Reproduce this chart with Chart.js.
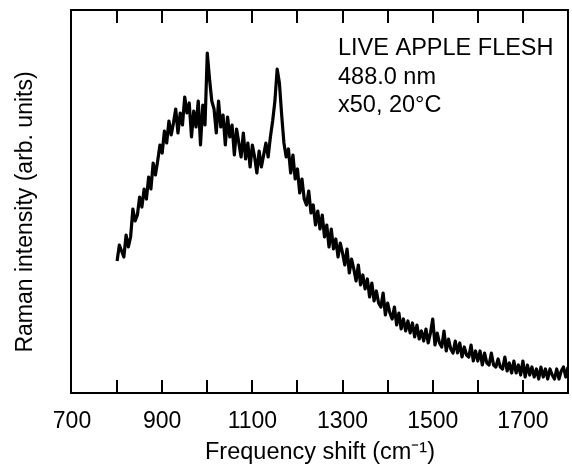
<!DOCTYPE html>
<html>
<head>
<meta charset="utf-8">
<script src="https://cdn.jsdelivr.net/npm/chart.js@4/dist/chart.umd.min.js"></script>
<style>
  html, body { margin: 0; padding: 0; background: #fff; }
  #wrap { width: 572px; height: 470px; }
</style>
</head>
<body>
<div id="wrap"><canvas id="c" width="572" height="470"></canvas></div>
<script>
// Frequency shift (cm^-1), 5 cm^-1 steps from 800 to 1800
const shiftStart = 800;
const shiftStep = 5;
// Raman intensity (arb. units)
const intensity = [
  132,148,142,136,158,146,156,184,172,178, // 800-845
  196,186,204,194,216,204,230,218,232,248, // 850-895
  240,262,250,272,258,270,284,260,280,268, // 900-945
  296,280,290,256,282,266,292,248,288,268, // 950-995
  340,314,292,284,260,292,266,278,248,276, // 1000-1045
  256,268,238,264,250,236,260,234,250,226, // 1050-1095
  248,236,220,242,226,238,250,236,256,272, // 1100-1145
  292,324,310,278,250,236,244,220,238,214, // 1150-1195
  224,200,214,194,188,202,180,188,168,182, // 1200-1245
  164,178,156,168,146,164,144,154,136,150, // 1250-1295
  140,128,144,120,134,124,112,128,108,118, // 1300-1345
  104,114,96,110,92,102,90,86,100,78,      // 1350-1395
  90,80,74,86,68,80,64,74,62,72,           // 1400-1445
  60,70,56,68,54,62,52,64,50,60,           // 1450-1495
  74,48,60,50,46,62,42,54,44,40,           // 1500-1545
  52,40,50,36,46,38,36,48,32,42,           // 1550-1595
  32,42,28,40,30,28,40,28,26,34,           // 1600-1645
  26,24,36,22,30,20,32,20,28,18,           // 1650-1695
  32,16,28,18,26,16,24,14,26,16,           // 1700-1745
  24,14,24,18,14,24,14,22,26,16,           // 1750-1795
  26                                       // 1800
];
const xTickLabels = [700, 900, 1100, 1300, 1500, 1700];
const annotationLines = ['LIVE APPLE FLESH', '488.0 nm', 'x50, 20\u00B0C'];
const yTitle = 'Raman intensity (arb. units)';

const points = intensity.map((v, i) => ({ x: shiftStart + i * shiftStep, y: v }));

const FONT = "'Liberation Sans', Arial, Helvetica, sans-serif";

const framePlugin = {
  id: 'frame',
  afterDraw(chart) {
    const { ctx, chartArea: a, scales } = chart;
    const xs = scales.x;
    ctx.save();
    ctx.strokeStyle = '#000';
    ctx.lineWidth = 2;
    ctx.strokeRect(a.left - 1, a.top, a.right - a.left + 1, a.bottom - a.top);
    // inward tick marks on top and bottom
    const ticks = xs.ticks;
    for (let i = 1; i < ticks.length - 1; i++) {
      const px = Math.round(xs.getPixelForValue(ticks[i].value));
      ctx.beginPath();
      ctx.moveTo(px, a.bottom);
      ctx.lineTo(px, a.bottom - 13);
      ctx.moveTo(px, a.top);
      ctx.lineTo(px, a.top + 13);
      ctx.stroke();
    }
    // annotation text
    ctx.fillStyle = '#000';
    ctx.font = '23.5px ' + FONT;
    ctx.textBaseline = 'alphabetic';
    ctx.textAlign = 'left';
    annotationLines.forEach((t, i) => {
      ctx.fillText(t, 338, 55 + i * 28.5);
    });
    // y axis title
    ctx.translate(26, 212);
    ctx.rotate(-Math.PI / 2);
    ctx.textAlign = 'center';
    ctx.textBaseline = 'middle';
    ctx.font = '23px ' + FONT;
    ctx.fillText(yTitle, 0, 0);
    ctx.restore();
  }
};

new Chart(document.getElementById('c'), {
  type: 'line',
  data: {
    datasets: [{
      data: points,
      borderColor: '#000',
      borderWidth: 3.2,
      borderJoinStyle: 'round',
      pointRadius: 0,
      tension: 0,
      fill: false
    }]
  },
  options: {
    responsive: false,
    animation: false,
    devicePixelRatio: 1,
    layout: { padding: { top: 10, right: 4, left: 0, bottom: 0 } },
    plugins: { legend: { display: false }, tooltip: { enabled: false } },
    scales: {
      x: {
        type: 'linear',
        min: 700,
        max: 1800,
        afterFit(s) { s.height = 77; s.paddingRight = 0; s.paddingLeft = 0; },
        border: { display: false },
        grid: { display: false, drawTicks: false },
        ticks: {
          stepSize: 100,
          autoSkip: false,
          maxRotation: 0,
          padding: 15,
          color: '#000',
          font: { family: FONT, size: 23 },
          callback: (v) => xTickLabels.includes(v) ? String(v) : ''
        },
        title: {
          display: true,
          text: 'Frequency shift (cm\u207B\u00B9)',
          color: '#000',
          font: { family: FONT, size: 23.5 },
          padding: { top: 0, bottom: 3 }
        }
      },
      y: {
        min: 0,
        max: 383,
        afterFit(s) { s.width = 72; },
        border: { display: false },
        grid: { display: false, drawTicks: false },
        ticks: { display: false },
        title: { display: false }
      }
    }
  },
  plugins: [framePlugin]
});
</script>
</body>
</html>
